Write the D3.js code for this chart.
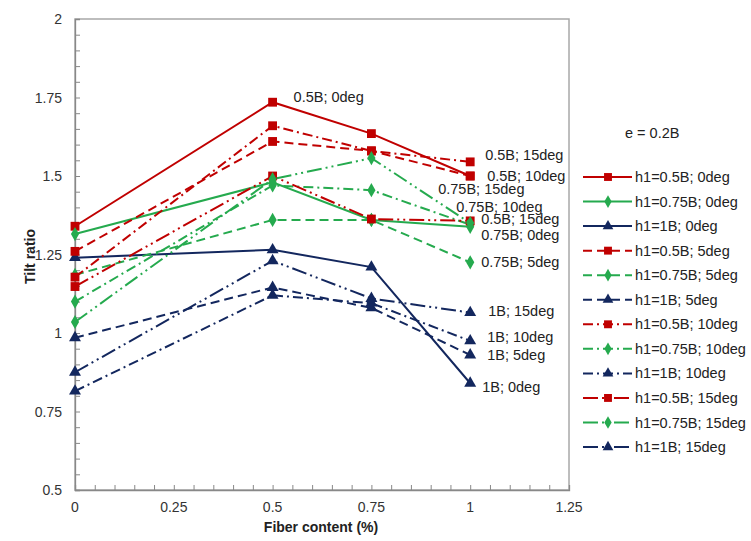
<!DOCTYPE html>
<html>
<head>
<meta charset="utf-8">
<script src="https://cdn.jsdelivr.net/npm/d3@7"></script>
<style>
  html, body { margin: 0; padding: 0; background: #fff; }
  svg { display: block; font-family: "Liberation Sans", Arial, sans-serif; }
</style>
</head>
<body>
<svg id="chart" width="751" height="541"></svg>
<script>
// Fiber content (%) at which the tilt ratio was measured
const fiber = [0, 0.5, 0.75, 1];

// Tilt ratio, one array per embedment depth h1 and inclination angle
const h05_0deg  = [1.34, 1.735, 1.635, 1.50];
const h075_0deg = [1.315, 1.48, 1.36, 1.338];
const h1_0deg   = [1.24, 1.265, 1.21, 0.84];
const h05_5deg  = [1.26, 1.61, 1.58, 1.50];
const h075_5deg = [1.185, 1.36, 1.36, 1.225];
const h1_5deg   = [0.985, 1.145, 1.08, 0.93];
const h05_10deg  = [1.178, 1.66, 1.58, 1.545];
const h075_10deg = [1.10, 1.47, 1.455, 1.345];
const h1_10deg   = [0.815, 1.12, 1.095, 0.975];
const h05_15deg  = [1.148, 1.50, 1.363, 1.357];
const h075_15deg = [1.035, 1.49, 1.557, 1.35];
const h1_15deg   = [0.875, 1.23, 1.11, 1.065];

const seriesNames = [
  "h1=0.5B; 0deg", "h1=0.75B; 0deg", "h1=1B; 0deg",
  "h1=0.5B; 5deg", "h1=0.75B; 5deg", "h1=1B; 5deg",
  "h1=0.5B; 10deg", "h1=0.75B; 10deg", "h1=1B; 10deg",
  "h1=0.5B; 15deg", "h1=0.75B; 15deg", "h1=1B; 15deg"
];
const seriesValues = [
  h05_0deg, h075_0deg, h1_0deg,
  h05_5deg, h075_5deg, h1_5deg,
  h05_10deg, h075_10deg, h1_10deg,
  h05_15deg, h075_15deg, h1_15deg
];

// Axis ticks
const xTicks = [0, 0.25, 0.5, 0.75, 1, 1.25];
const yTicks = [0.5, 0.75, 1, 1.25, 1.5, 1.75, 2];

// End-of-line annotations: text, series index, point index
const noteTexts  = ["0.5B; 0deg", "0.5B; 15deg", "0.5B; 10deg", "0.75B; 15deg", "0.75B; 10deg",
                    "0.5B; 15deg", "0.75B; 0deg", "0.75B; 5deg", "1B; 15deg", "1B; 10deg", "1B; 5deg", "1B; 0deg"];
const noteSeries = [0, 6, 0, 10, 7, 9, 1, 4, 11, 8, 5, 2];
const notePoint  = [1, 3, 3, 3, 3, 3, 3, 3, 3, 3, 3, 3];
// pixel offsets of each annotation from its point
const noteDx = [21, 15, 17, -32, -14, 11, 11, 11, 18, 17, 17, 12];
const noteDy = [-5, -7, 0, -34, -18, -2, 8, 0, -2, -4, 0, 4];

// ---- styling ----
const colors = ["#c00000", "#25aa4e", "#13275e"];
const dashes = [null, "9,5", "10,4,2,4", "15,4,2,4,2,4"];
const shapes = [d3.symbolSquare, d3.symbolDiamond, d3.symbolTriangle];
const shapeSize = [78, 58, 62];

const svg = d3.select("#chart");
const M = { left: 75, right: 569, top: 19, bottom: 490 };

const x = d3.scaleLinear().domain([0, 1.25]).range([M.left, M.right]);
const y = d3.scaleLinear().domain([0.5, 2]).range([M.bottom, M.top]);

// Plot frame
svg.append("rect")
  .attr("x", M.left).attr("y", M.top)
  .attr("width", M.right - M.left).attr("height", M.bottom - M.top)
  .attr("fill", "none").attr("stroke", "#a8a8a8").attr("stroke-width", 1.5);

// Minor ticks (inside the plot)
const minor = d3.range(0, 31).map(i => +(0.5 + i * 0.05).toFixed(2));
const minorX = d3.range(0, 26).map(i => +(i * 0.05).toFixed(2));

const yAxis = d3.axisRight(y).tickValues(minor).tickSize(5).tickFormat("");
const gy = svg.append("g").attr("transform", `translate(${M.left},0)`).call(yAxis);
gy.select(".domain").attr("stroke", "#888").attr("stroke-width", 1.3);
gy.selectAll(".tick line").attr("stroke", "#888");

const xAxis = d3.axisTop(x).tickValues(minorX).tickSize(5).tickFormat("");
const gx = svg.append("g").attr("transform", `translate(0,${M.bottom})`).call(xAxis);
gx.select(".domain").attr("stroke", "#888").attr("stroke-width", 1.3);
gx.selectAll(".tick line").attr("stroke", "#888");

// Tick labels
svg.append("g").selectAll("text").data(yTicks).join("text")
  .attr("x", M.left - 13).attr("y", d => y(d))
  .attr("text-anchor", "end").attr("dominant-baseline", "central")
  .attr("font-size", 14).attr("fill", "#333")
  .text(d => String(d));

svg.append("g").selectAll("text").data(xTicks).join("text")
  .attr("x", d => x(d)).attr("y", M.bottom + 17)
  .attr("text-anchor", "middle").attr("dominant-baseline", "central")
  .attr("font-size", 14).attr("fill", "#333")
  .text(d => String(d));

// Axis titles
svg.append("text")
  .attr("x", (M.left + M.right) / 2 - 1).attr("y", 532)
  .attr("text-anchor", "middle").attr("font-size", 14).attr("font-weight", "bold")
  .attr("fill", "#222").text("Fiber content (%)");

svg.append("text")
  .attr("transform", `translate(35,${(M.top + M.bottom) / 2 + 2}) rotate(-90)`)
  .attr("text-anchor", "middle").attr("font-size", 14).attr("font-weight", "bold")
  .attr("fill", "#222").text("Tilt ratio");

// Series
const line = d3.line().x((d, i) => x(fiber[i])).y(d => y(d));

seriesValues.forEach((vals, s) => {
  const c = colors[s % 3];
  const dash = dashes[Math.floor(s / 3)];
  const g = svg.append("g");
  g.append("path").datum(vals)
    .attr("d", line)
    .attr("fill", "none").attr("stroke", c).attr("stroke-width", 2)
    .attr("stroke-dasharray", dash);
  g.selectAll("path.mk").data(vals).join("path").attr("class", "mk")
    .attr("transform", (d, i) => `translate(${x(fiber[i])},${y(d)})`)
    .attr("d", d3.symbol().type(shapes[s % 3]).size(shapeSize[s % 3]))
    .attr("fill", c);
});

// Annotations
noteTexts.forEach((t, k) => {
  const s = noteSeries[k], p = notePoint[k];
  svg.append("text")
    .attr("x", x(fiber[p]) + noteDx[k])
    .attr("y", y(seriesValues[s][p]) + noteDy[k])
    .attr("dominant-baseline", "central")
    .attr("font-size", 14.5).attr("fill", "#222")
    .text(t);
});

// Legend
svg.append("text")
  .attr("x", 625).attr("y", 133).attr("dominant-baseline", "central")
  .attr("font-size", 14.5).attr("fill", "#222").text("e = 0.2B");

const lg = svg.append("g");
seriesNames.forEach((name, s) => {
  const ly = 177 + s * 24.55;
  const c = colors[s % 3];
  const dash = dashes[Math.floor(s / 3)];
  lg.append("line")
    .attr("x1", 583).attr("x2", 632).attr("y1", ly).attr("y2", ly)
    .attr("stroke", c).attr("stroke-width", 2).attr("stroke-dasharray", dash);
  lg.append("path")
    .attr("transform", `translate(608,${ly})`)
    .attr("d", d3.symbol().type(shapes[s % 3]).size(shapeSize[s % 3] * 0.8))
    .attr("fill", c);
  lg.append("text")
    .attr("x", 635).attr("y", ly).attr("dominant-baseline", "central")
    .attr("font-size", 14.5).attr("fill", "#222").text(name);
});
</script>
</body>
</html>
